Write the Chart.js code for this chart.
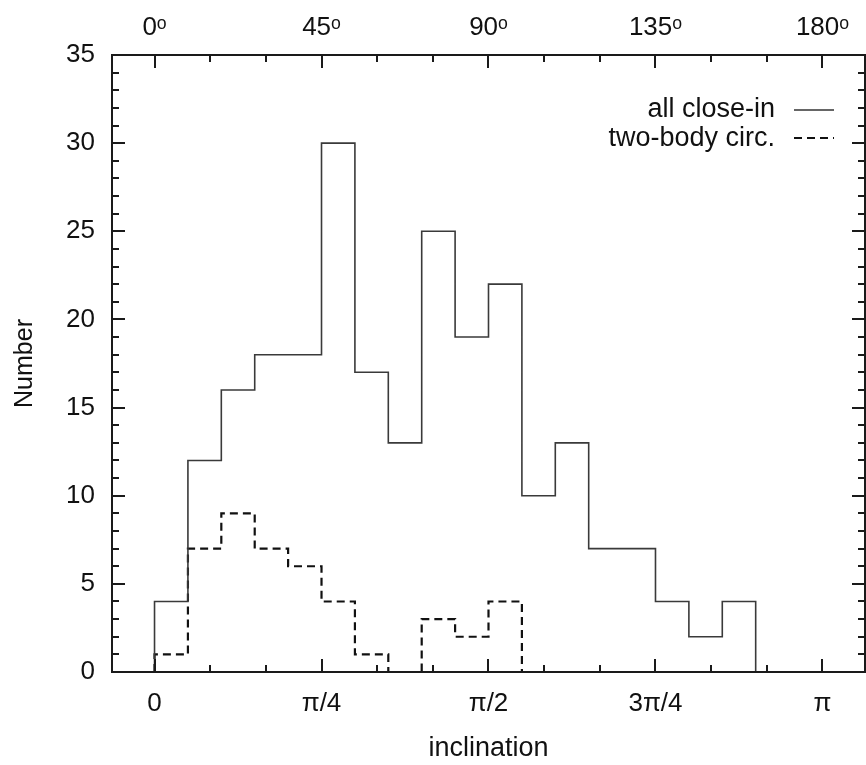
<!DOCTYPE html>
<html>
<head>
<meta charset="utf-8">
<script src="https://cdn.jsdelivr.net/npm/chart.js@4/dist/chart.umd.min.js"></script>
<style>
  html, body { margin: 0; padding: 0; background: #ffffff; }
  #wrap { width: 866px; height: 765px; }
</style>
</head>
<body>
<div id="wrap"><canvas id="c" width="866" height="765"></canvas></div>
<script>
// ---- data ----
const binEdgesDeg = [0, 9, 18, 27, 36, 45, 54, 63, 72, 81, 90, 99, 108, 117, 126, 135, 144, 153, 162, 171, 180];
const allCloseIn   = [4, 12, 16, 18, 18, 30, 17, 13, 25, 19, 22, 10, 13, 7, 7, 4, 2, 4, 0, 0];
const twoBodyCirc  = [1, 7, 9, 7, 6, 4, 1, 0, 3, 2, 4, 0, 0, 0, 0, 0, 0, 0, 0, 0];
const seriesNames  = ["all close-in", "two-body circ."];
const xTickDeg     = [0, 45, 90, 135, 180];
const xTickLabels  = ["0", "\u03c0/4", "\u03c0/2", "3\u03c0/4", "\u03c0"];
const topTickLabels = ["0\u1d52", "45\u1d52", "90\u1d52", "135\u1d52", "180\u1d52"];
const xMinorDeg    = [15, 30, 60, 75, 105, 120, 150, 165];
const yMin = 0, yMax = 35, yStep = 5;
const xMinRad = -0.2, xMaxRad = Math.PI + 0.2;

const toRad = d => d * Math.PI / 180;

function histPoints(counts) {
  const pts = [{ x: toRad(binEdgesDeg[0]), y: 0 }];
  counts.forEach((c, i) => pts.push({ x: toRad(binEdgesDeg[i]), y: c }));
  pts.push({ x: toRad(binEdgesDeg[binEdgesDeg.length - 1]), y: 0 });
  return pts;
}

const FONT = "'Liberation Sans', Arial, Helvetica, sans-serif";
const TXT = '#111111';
const FS = 26;

const framePlugin = {
  id: 'frameTicks',
  afterDatasetsDraw(chart) {
    const { ctx, chartArea: a, scales } = chart;
    const x = scales.x, y = scales.y;
    ctx.save();
    ctx.strokeStyle = '#1a1a1a';
    ctx.lineWidth = 2;
    ctx.lineCap = 'butt';
    const majorLen = 13, minorLen = 7;
    ctx.beginPath();
    xTickDeg.forEach(d => {
      const px = Math.round(x.getPixelForValue(toRad(d)));
      ctx.moveTo(px, a.bottom); ctx.lineTo(px, a.bottom - majorLen);
      ctx.moveTo(px, a.top); ctx.lineTo(px, a.top + majorLen);
    });
    xMinorDeg.forEach(d => {
      const px = Math.round(x.getPixelForValue(toRad(d)));
      ctx.moveTo(px, a.bottom); ctx.lineTo(px, a.bottom - minorLen);
      ctx.moveTo(px, a.top); ctx.lineTo(px, a.top + minorLen);
    });
    for (let v = yMin; v <= yMax; v += 1) {
      const py = Math.round(y.getPixelForValue(v));
      const len = (v % yStep === 0) ? majorLen : minorLen;
      ctx.moveTo(a.left, py); ctx.lineTo(a.left + len, py);
      ctx.moveTo(a.right, py); ctx.lineTo(a.right - len, py);
    }
    ctx.stroke();
    ctx.strokeRect(a.left, a.top, a.right - a.left, a.bottom - a.top);

    // legend
    ctx.font = '27px ' + FONT;
    ctx.fillStyle = TXT;
    ctx.textAlign = 'right';
    ctx.textBaseline = 'middle';
    const textRight = 775, lx0 = 794, lx1 = 834;
    const rows = [110, 139];
    ctx.fillText(seriesNames[0], textRight, rows[0]);
    ctx.fillText(seriesNames[1], textRight, rows[1]);
    ctx.beginPath();
    ctx.lineWidth = 1.5;
    ctx.strokeStyle = '#333333';
    ctx.moveTo(lx0, rows[0]); ctx.lineTo(lx1, rows[0]);
    ctx.stroke();
    ctx.beginPath();
    ctx.lineWidth = 2;
    ctx.strokeStyle = '#111111';
    ctx.setLineDash([8, 5]);
    ctx.moveTo(lx0, rows[1] - 1); ctx.lineTo(lx1, rows[1] - 1);
    ctx.stroke();
    ctx.restore();
  }
};

function setTicks(scale) {
  scale.ticks = xTickDeg.map(d => ({ value: toRad(d) }));
}

new Chart(document.getElementById('c'), {
  type: 'line',
  data: {
    datasets: [
      {
        label: seriesNames[0],
        data: histPoints(allCloseIn),
        stepped: 'before',
        borderColor: '#3a3a3a',
        borderWidth: 1.6,
        pointRadius: 0,
        fill: false
      },
      {
        label: seriesNames[1],
        data: histPoints(twoBodyCirc),
        stepped: 'before',
        borderColor: '#111111',
        borderWidth: 2.2,
        borderDash: [8, 5],
        pointRadius: 0,
        fill: false
      }
    ]
  },
  options: {
    responsive: false,
    animation: false,
    devicePixelRatio: 1,
    layout: { padding: { left: 0, right: 1, top: 0, bottom: 0 } },
    plugins: { legend: { display: false }, tooltip: { enabled: false } },
    scales: {
      x: {
        type: 'linear',
        position: 'bottom',
        min: xMinRad, max: xMaxRad,
        afterBuildTicks: setTicks,
        afterFit: s => { s.height = 93; },
        grid: { display: false, drawTicks: false },
        border: { display: false },
        ticks: {
          padding: 16,
          color: TXT,
          font: { family: FONT, size: FS },
          maxRotation: 0,
          autoSkip: false,
          callback: (v, i) => xTickLabels[i]
        },
        title: {
          display: true,
          text: 'inclination',
          color: TXT,
          font: { family: FONT, size: 27 },
          padding: { top: 0, bottom: 0 }
        }
      },
      x2: {
        type: 'linear',
        position: 'top',
        min: xMinRad, max: xMaxRad,
        afterBuildTicks: setTicks,
        afterFit: s => { s.height = 55; },
        grid: { display: false, drawTicks: false },
        border: { display: false },
        ticks: {
          padding: 12,
          color: TXT,
          font: { family: FONT, size: FS },
          maxRotation: 0,
          autoSkip: false,
          callback: (v, i) => topTickLabels[i]
        }
      },
      y: {
        type: 'linear',
        position: 'left',
        min: yMin, max: yMax,
        afterFit: s => { s.width = 112; },
        grid: { display: false, drawTicks: false },
        border: { display: false },
        ticks: {
          stepSize: yStep,
          padding: 17,
          color: TXT,
          font: { family: FONT, size: FS }
        },
        title: {
          display: true,
          text: 'Number',
          color: TXT,
          font: { family: FONT, size: 25 },
          padding: { top: 10, bottom: 0 }
        }
      }
    }
  },
  plugins: [framePlugin]
});
</script>
</body>
</html>
